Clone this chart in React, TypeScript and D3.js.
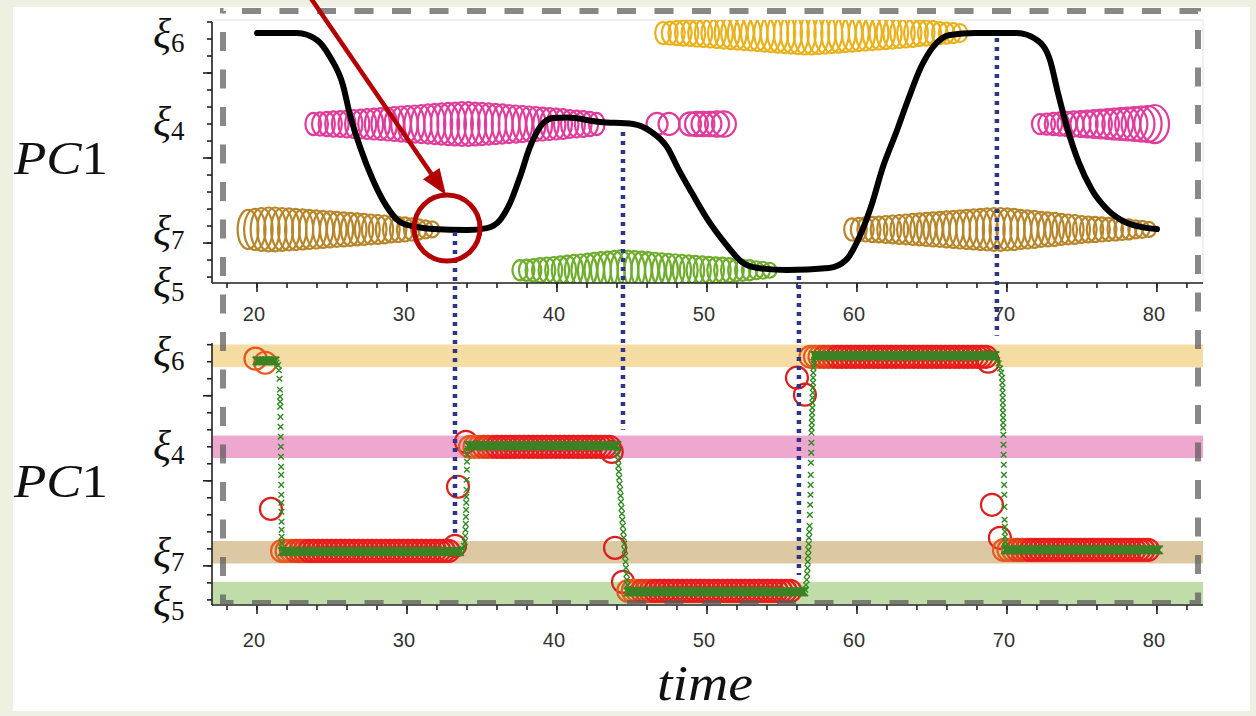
import React from "react";
import * as d3 from "d3";

// ---------- DATA ----------
const levelSubs = ["6", "4", "7", "5"];
const levelValues = [1.235, 0.7, 0.08, -0.16];
const topLabelValues = [1.206, 0.688, 0.047, -0.259];
const bottomLabelValues = [1.235, 0.682, 0.053, -0.235];
const bandColors = ["#f4dca2", "#eea8d0", "#dcc8a2", "#c0dca8"];

const xTickValues = [20, 30, 40, 50, 60, 70, 80];

// black PC1 trajectory (top panel)
const pcTime = [20, 22.67, 24.0, 24.87, 25.73, 26.2, 26.87, 27.73, 28.67, 29.53, 30.67, 31.73, 34.0, 35.33, 36.2, 36.87, 37.53, 38.2, 38.87, 39.73, 40.67, 42.87, 45.07, 46.2, 47.33, 48.13, 49.0, 50.07, 51.2, 52.33, 53.4, 55.33, 58.13, 59.27, 60.07, 60.93, 61.73, 62.6, 63.4, 64.27, 65.07, 66.2, 67.87, 70.67, 72.0, 72.87, 73.4, 74.0, 74.8, 75.67, 76.73, 77.87, 79.0, 80.0];
const pcValue = [1.235, 1.235, 1.194, 1.094, 0.929, 0.753, 0.565, 0.371, 0.212, 0.124, 0.094, 0.082, 0.076, 0.088, 0.135, 0.235, 0.388, 0.565, 0.682, 0.735, 0.738, 0.712, 0.7, 0.659, 0.565, 0.429, 0.294, 0.135, 0, -0.112, -0.147, -0.159, -0.147, -0.1, 0.018, 0.212, 0.447, 0.647, 0.841, 1.035, 1.153, 1.224, 1.235, 1.235, 1.194, 1.076, 0.882, 0.682, 0.471, 0.312, 0.194, 0.124, 0.094, 0.082];

// ring chains (top panel): spread in PC1 units
const brownEarlySpread = [0.115, 0.121, 0.126, 0.129, 0.129, 0.126, 0.124, 0.121, 0.118, 0.115, 0.112, 0.109, 0.106, 0.103, 0.1, 0.097, 0.094, 0.091, 0.088, 0.085, 0.082, 0.076, 0.074, 0.071, 0.065, 0.059, 0.053, 0.047];
const magentaEarlySpread = [0.065, 0.068, 0.071, 0.074, 0.076, 0.079, 0.082, 0.085, 0.088, 0.091, 0.094, 0.097, 0.1, 0.103, 0.106, 0.109, 0.112, 0.115, 0.118, 0.121, 0.124, 0.126, 0.129, 0.129, 0.126, 0.124, 0.121, 0.118, 0.115, 0.112, 0.109, 0.106, 0.103, 0.1, 0.097, 0.094, 0.091, 0.088, 0.082, 0.079, 0.076, 0.071, 0.065];
const magentaMidTime = [46.67, 47.47, 48.87, 49.3, 49.73, 50.2, 50.67, 51.13];
const magentaMidSpread = [0.065, 0.065, 0.068, 0.071, 0.071, 0.071, 0.074, 0.074];
const magentaLateSpread = [0.059, 0.062, 0.065, 0.068, 0.071, 0.074, 0.076, 0.079, 0.082, 0.085, 0.088, 0.091, 0.094, 0.097, 0.1, 0.103, 0.106, 0.112];
const yellowSpread = [0.065, 0.068, 0.071, 0.074, 0.076, 0.079, 0.082, 0.085, 0.088, 0.091, 0.094, 0.097, 0.1, 0.103, 0.106, 0.109, 0.112, 0.115, 0.118, 0.121, 0.124, 0.126, 0.126, 0.124, 0.121, 0.118, 0.115, 0.112, 0.109, 0.106, 0.103, 0.1, 0.097, 0.094, 0.091, 0.088, 0.085, 0.082, 0.076, 0.074, 0.071, 0.065, 0.062, 0.059, 0.053];
const greenSpread = [0.059, 0.063, 0.066, 0.071, 0.075, 0.078, 0.082, 0.086, 0.09, 0.094, 0.098, 0.102, 0.106, 0.11, 0.114, 0.118, 0.115, 0.112, 0.109, 0.106, 0.103, 0.1, 0.097, 0.094, 0.091, 0.088, 0.085, 0.082, 0.079, 0.076, 0.074, 0.071, 0.065, 0.062, 0.059, 0.053, 0.05, 0.044];
const brownLateSpread = [0.065, 0.068, 0.071, 0.074, 0.076, 0.079, 0.082, 0.085, 0.088, 0.091, 0.094, 0.097, 0.1, 0.103, 0.106, 0.109, 0.112, 0.115, 0.118, 0.121, 0.124, 0.126, 0.126, 0.124, 0.121, 0.115, 0.112, 0.109, 0.103, 0.1, 0.097, 0.091, 0.088, 0.085, 0.079, 0.076, 0.074, 0.071, 0.068, 0.065, 0.062, 0.059, 0.053, 0.05, 0.044];

// red circles (bottom panel)
const redPlateauStart = [21.67, 34.2, 44.75, 56.9, 69.8];
const redPlateauEnd = [33.0, 43.5, 55.8, 68.6, 79.67];
const redPlateauValue = [0.088, 0.7, -0.147, 1.229, 0.094];
const redExtraTime = [19.9, 20.55, 20.93, 33.2, 33.4, 33.93, 43.65, 43.87, 44.4, 56.0, 56.53, 68.75, 69.0, 69.53];
const redExtraValue = [1.218, 1.194, 0.335, 0.118, 0.465, 0.729, 0.67, 0.106, -0.094, 1.106, 1.006, 1.2, 0.359, 0.165];

// green crosses (bottom panel)
const greenPlateauStart = [20.0, 21.7, 34.1, 44.75, 57.2, 69.9];
const greenPlateauEnd = [21.25, 33.5, 44.0, 56.5, 69.2, 80.1];
const greenPlateauValue = [1.205, 0.084, 0.706, -0.153, 1.235, 0.094];
const greenSwitch1 = [[21.3, 1.195], [21.4, 1.18], [21.46, 1.15], [21.5, 1.1], [21.53, 1.035], [21.54, 0.994], [21.545, 0.965], [21.55, 0.935], [21.56, 0.876], [21.57, 0.818], [21.58, 0.759], [21.59, 0.7], [21.6, 0.641], [21.605, 0.582], [21.61, 0.535], [21.615, 0.476], [21.62, 0.418], [21.625, 0.371], [21.63, 0.318], [21.635, 0.259], [21.64, 0.212], [21.645, 0.171], [21.65, 0.135], [21.67, 0.105]];
const greenSwitch2 = [[33.55, 0.09], [33.7, 0.1], [33.8, 0.118], [33.85, 0.141], [33.88, 0.176], [33.9, 0.212], [33.92, 0.247], [33.93, 0.288], [33.94, 0.329], [33.95, 0.371], [33.96, 0.406], [33.97, 0.447], [33.98, 0.506], [33.99, 0.565], [34.0, 0.612], [34.02, 0.653], [34.06, 0.688]];
const greenSwitch3 = [[44.0, 0.682], [44.03, 0.653], [44.06, 0.624], [44.09, 0.588], [44.12, 0.553], [44.15, 0.518], [44.18, 0.482], [44.21, 0.447], [44.24, 0.412], [44.27, 0.376], [44.3, 0.341], [44.33, 0.306], [44.36, 0.271], [44.39, 0.235], [44.42, 0.2], [44.45, 0.165], [44.48, 0.129], [44.51, 0.094], [44.54, 0.059], [44.57, 0.024], [44.6, -0.012], [44.63, -0.047], [44.66, -0.082], [44.7, -0.112], [44.73, -0.135]];
const greenSwitch4 = [[56.55, -0.14], [56.6, -0.112], [56.65, -0.082], [56.68, -0.047], [56.7, -0.012], [56.72, 0.024], [56.74, 0.059], [56.76, 0.094], [56.78, 0.129], [56.8, 0.165], [56.82, 0.2], [56.84, 0.235], [56.86, 0.3], [56.88, 0.359], [56.9, 0.418], [56.91, 0.476], [56.92, 0.535], [56.93, 0.606], [56.95, 0.665], [56.96, 0.724], [56.97, 0.782], [56.98, 0.812], [56.99, 0.841], [57.0, 0.871], [57.01, 0.9], [57.02, 0.929], [57.03, 0.959], [57.04, 0.988], [57.05, 1.018], [57.06, 1.047], [57.07, 1.076], [57.08, 1.106], [57.09, 1.135], [57.1, 1.165], [57.12, 1.188], [57.15, 1.212], [57.18, 1.228]];
const greenSwitch5 = [[69.25, 1.225], [69.35, 1.21], [69.45, 1.19], [69.55, 1.16], [69.62, 1.135], [69.68, 1.106], [69.69, 1.076], [69.7, 1.047], [69.71, 1.018], [69.72, 0.988], [69.725, 0.959], [69.73, 0.929], [69.735, 0.9], [69.74, 0.871], [69.745, 0.841], [69.75, 0.812], [69.76, 0.771], [69.77, 0.712], [69.78, 0.653], [69.79, 0.594], [69.8, 0.535], [69.81, 0.476], [69.82, 0.418], [69.83, 0.347], [69.84, 0.271], [69.86, 0.229], [69.87, 0.2], [69.87, 0.171], [69.88, 0.141], [69.89, 0.118]];

// dotted switch markers
const markerTime = [33.2, 44.4, 56.13, 69.33];
const markerTopValue = [0.065, 0.653, -0.194, 1.206];
const markerBottomValue = [0.194, 0.8, -0.053, 1.353];

// annotation
const arrowFrom = [23.2, 1.49];
const arrowTo = [32.6, 0.282];
const highlight = [32.67, 0.088];

// ---------- COMPONENT ----------
const SERIF = "'Liberation Serif','DejaVu Serif',serif";
const SANS = "'Liberation Sans',Arial,sans-serif";

function cross(cx: number, cy: number, h: number) {
  return `M${cx - h},${cy - h}L${cx + h},${cy + h}M${cx - h},${cy + h}L${cx + h},${cy - h}`;
}

export default function App() {
  const x = d3.scaleLinear().domain([17, 83.07]).range([212, 1203]);
  const yTop = d3.scaleLinear().domain([-0.235, 1.3]).range([283, 22]);
  const yBot = d3.scaleLinear().domain([-0.23, 1.31]).range([605, 343]);
  const ppu = yTop(0) - yTop(1);

  const curve = d3
    .line<number>()
    .x((_, i) => x(pcTime[i]))
    .y((d) => yTop(d))
    .curve(d3.curveMonotoneX)(pcValue) as string;

  const chains = [
    { spread: brownEarlySpread, t0: 19.4, dt: 0.455, lvl: 2, color: "#b8862a", kind: 0 },
    { spread: magentaEarlySpread, t0: 23.75, dt: 0.45, lvl: 1, color: "#e03c9c", kind: 0 },
    { spread: magentaLateSpread, t0: 72.2, dt: 0.45, lvl: 1, color: "#e03c9c", kind: 2 },
    { spread: yellowSpread, t0: 47.07, dt: 0.45, lvl: 0, color: "#e9b11a", kind: 0 },
    { spread: greenSpread, t0: 37.53, dt: 0.45, lvl: 3, color: "#6eae2c", kind: 0 },
    { spread: brownLateSpread, t0: 59.67, dt: 0.45, lvl: 2, color: "#b8862a", kind: 0 },
  ];
  const rings: { cx: number; cy: number; rx: number; ry: number; color: string }[] = [];
  chains.forEach((c) => {
    c.spread.forEach((s, i) => {
      const ry = s * ppu;
      const rx = c.kind === 2 ? 0.7 * ry + 1 : 0.3 * ry + 4.5;
      rings.push({ cx: x(c.t0 + i * c.dt), cy: yTop(levelValues[c.lvl]), rx, ry, color: c.color });
    });
  });
  magentaMidTime.forEach((t, i) => {
    const ry = magentaMidSpread[i] * ppu;
    rings.push({ cx: x(t), cy: yTop(levelValues[1]), rx: ry * 0.95, ry, color: "#e03c9c" });
  });

  // red circles
  const redCircles: { cx: number; cy: number; c: string }[] = [];
  redExtraTime.forEach((t, i) => {
    redCircles.push({ cx: x(t), cy: yBot(redExtraValue[i]), c: i < 2 ? "#e6561e" : "#dc1e1e" });
  });
  redPlateauStart.forEach((t0, k) => {
    d3.range(t0, redPlateauEnd[k] + 1e-6, 0.3).forEach((t, i) => {
      const c = i < 3 ? "#e65a1e" : i < 6 ? "#e63a1c" : "#e81c1c";
      redCircles.push({ cx: x(t), cy: yBot(redPlateauValue[k]), c });
    });
  });

  // green crosses
  let greenPlateauPath = "";
  greenPlateauStart.forEach((t0, k) => {
    d3.range(t0, greenPlateauEnd[k] + 1e-6, 0.1).forEach((t) => {
      greenPlateauPath += cross(x(t), yBot(greenPlateauValue[k]), 4.3);
    });
  });
  let greenSwitchPath = "";
  [greenSwitch1, greenSwitch2, greenSwitch3, greenSwitch4, greenSwitch5].forEach((arr) => {
    arr.forEach(([t, v]) => {
      greenSwitchPath += cross(x(t), yBot(v), 2.8);
    });
  });

  const yMinor = d3.range(-0.2, 1.301, 0.1);
  const yMajor = [0, 0.5, 1.0];
  const xMinor = d3.range(18, 83, 2);

  const yAxis = (scale: d3.ScaleLinear<number, number>, y0: number, y1: number) => (
    <g stroke="#222" strokeWidth={1.6}>
      <line x1={212} x2={212} y1={y0} y2={y1} />
      {yMinor.map((v) => (
        <line key={"m" + v} x1={207} x2={212} y1={scale(v)} y2={scale(v)} />
      ))}
      {yMajor.map((v) => (
        <line key={"M" + v} x1={203} x2={212} y1={scale(v)} y2={scale(v)} />
      ))}
    </g>
  );
  const xAxis = (y0: number, labelY: number) => (
    <g>
      <g stroke="#222" strokeWidth={1.6}>
        <line x1={212} x2={1203} y1={y0} y2={y0} />
        {xMinor.map((t) => (
          <line key={"m" + t} x1={x(t)} x2={x(t)} y1={y0} y2={y0 + 5} />
        ))}
        {xTickValues.map((t) => (
          <line key={"M" + t} x1={x(t)} x2={x(t)} y1={y0} y2={y0 + 9} />
        ))}
      </g>
      {xTickValues.map((t) => (
        <text key={"l" + t} x={x(t) - 3} y={labelY} textAnchor="middle" fontFamily={SANS} fontSize={20} fill="#333">
          {t}
        </text>
      ))}
    </g>
  );
  const yLabels = (scale: d3.ScaleLinear<number, number>, vals: number[]) =>
    vals.map((v, i) => (
      <text key={i} x={153} y={scale(v) + 10} fontFamily={SERIF} fontSize={42} fontStyle="italic" fill="#111">
        ξ
        <tspan fontSize={27} fontStyle="normal" dy={4}>
          {levelSubs[i]}
        </tspan>
      </text>
    ));

  // arrow geometry
  const ax0 = x(arrowFrom[0]), ay0 = yTop(arrowFrom[1]);
  const ax1 = x(arrowTo[0]), ay1 = yTop(arrowTo[1]);
  const len = Math.hypot(ax1 - ax0, ay1 - ay0);
  const ux = (ax1 - ax0) / len, uy = (ay1 - ay0) / len;
  const hl = 26, hw = 10;
  const head = `M${ax1},${ay1}L${ax1 - hl * ux + hw * uy},${ay1 - hl * uy - hw * ux}L${ax1 - hl * ux - hw * uy},${ay1 - hl * uy + hw * ux}Z`;

  return (
    <svg width={1256} height={716} style={{ position: "absolute", left: 0, top: 0 }} xmlns="http://www.w3.org/2000/svg">
      <defs>
        <clipPath id="topClip">
          <rect x={212} y={20} width={991} height={263} />
        </clipPath>
      </defs>
      <rect x={0} y={0} width={1256} height={716} fill="#eef1e2" />
      <rect x={13} y={7} width={1237} height={704} fill="#ffffff" />
      <rect x={212} y={20} width={991} height={263} fill="none" stroke="#e3e3e3" strokeWidth={1} />

      {/* TOP PANEL */}
      <g clipPath="url(#topClip)">
        {rings.map((r, i) => (
          <ellipse key={i} cx={r.cx} cy={r.cy} rx={r.rx} ry={r.ry} fill="none" stroke={r.color} strokeWidth={2.2} />
        ))}
        <path d={curve} fill="none" stroke="#000" strokeWidth={6} strokeLinecap="round" />
      </g>
      {yAxis(yTop, 22, 283)}
      {xAxis(283, 321)}
      {yLabels(yTop, topLabelValues)}

      {/* BOTTOM PANEL */}
      {levelValues.map((v, i) => (
        <rect key={i} x={212} width={991} y={yBot(v + 0.066)} height={yBot(v - 0.066) - yBot(v + 0.066)} fill={bandColors[i]} />
      ))}
      <g fill="none" strokeWidth={2.2}>
        {redCircles.map((c, i) => (
          <circle key={i} cx={c.cx} cy={c.cy} r={11} stroke={c.c} />
        ))}
      </g>
      <path d={greenPlateauPath} stroke="#3c8224" strokeWidth={1.8} fill="none" />
      <path d={greenSwitchPath} stroke="#2f8a22" strokeWidth={1.4} fill="none" />
      {yAxis(yBot, 343, 605)}
      {xAxis(605, 647)}
      {yLabels(yBot, bottomLabelValues)}

      {/* dotted switch markers */}
      {markerTime.map((t, i) => (
        <line key={i} x1={x(t)} x2={x(t)} y1={yTop(markerTopValue[i])} y2={yBot(markerBottomValue[i])} stroke="#2f3486" strokeWidth={4.5} strokeDasharray="4 5" />
      ))}

      {/* dashed frame */}
      <rect x={223} y={11} width={975} height={592} fill="none" stroke="#5a5a5a" strokeOpacity={0.72} strokeWidth={6} strokeDasharray="19 18.5" strokeDashoffset={18.5} />

      {/* annotation */}
      <line x1={ax0} y1={ay0} x2={ax1 - hl * 0.8 * ux} y2={ay1 - hl * 0.8 * uy} stroke="#b30000" strokeWidth={4.5} />
      <path d={head} fill="#b30000" />
      <circle cx={x(highlight[0])} cy={yTop(highlight[1])} r={33} fill="none" stroke="#b30000" strokeWidth={5} />

      {/* axis titles */}
      <text x={14} y={174} fontFamily={SERIF} fontSize={46} fill="#111" textLength={94} lengthAdjust="spacingAndGlyphs">
        <tspan fontStyle="italic">PC</tspan>1
      </text>
      <text x={14} y={497} fontFamily={SERIF} fontSize={46} fill="#111" textLength={94} lengthAdjust="spacingAndGlyphs">
        <tspan fontStyle="italic">PC</tspan>1
      </text>
      <text x={657} y={700} fontFamily={SERIF} fontSize={50} fontStyle="italic" fill="#111" textLength={96} lengthAdjust="spacingAndGlyphs">
        time
      </text>
    </svg>
  );
}
